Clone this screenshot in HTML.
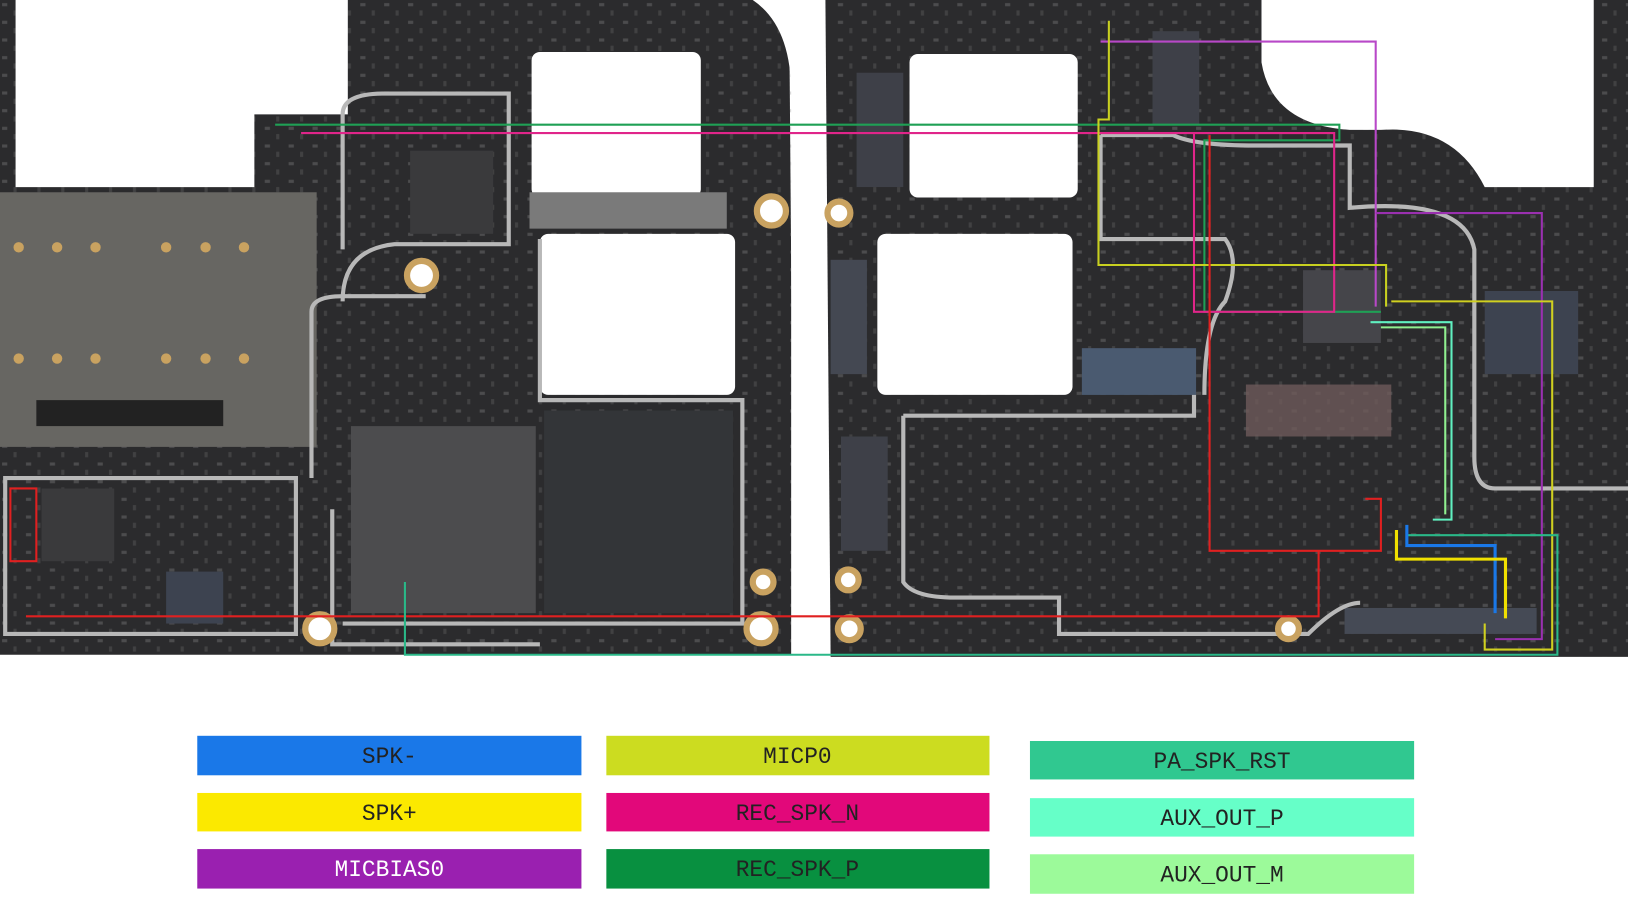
<!DOCTYPE html>
<html><head><meta charset="utf-8"><style>
html,body{margin:0;padding:0;background:#fff;}
svg{display:block;}
text{font-family:"Liberation Mono","DejaVu Sans Mono",monospace;font-size:22px;}
</style></head><body>
<svg width="1628" height="900" viewBox="0 0 1568 866" preserveAspectRatio="none" xmlns="http://www.w3.org/2000/svg">
<defs>
<pattern id="cmp" width="23" height="17" patternUnits="userSpaceOnUse">
<rect x="2" y="3" width="5" height="3" fill="#8a8a8a"/>
<rect x="13" y="10" width="3" height="5" fill="#6a6a6a"/>
</pattern>
</defs>
<rect width="1568" height="866" fill="#fff"/>
<!-- left board -->
<path d="M0 0 H760 L765 630 H0 Z" fill="#2b2b2d"/>
<rect x="0" y="0" width="765" height="630" fill="url(#cmp)" opacity=".35"/>
<path d="M15 0 H335 V110 H245 V180 H15 Z" fill="#fff"/>
<rect x="512" y="50" width="163" height="140" rx="8" fill="#fff"/>
<rect x="520" y="225" width="188" height="155" rx="8" fill="#fff"/>
<path d="M725 0 Q762 25 762 90 V630 H795 V0 Z" fill="#fff"/>
<!-- right board -->
<path d="M795 0 H1568 V632 H800 Z" fill="#2b2b2d"/>
<rect x="800" y="0" width="768" height="632" fill="url(#cmp)" opacity=".35"/>
<rect x="876" y="52" width="162" height="138" rx="8" fill="#fff"/>
<rect x="845" y="225" width="188" height="155" rx="8" fill="#fff"/>
<path d="M1215 0 H1535 V180 H1430 Q1400 120 1330 125 H1300 Q1225 120 1215 60 Z" fill="#fff"/>
<!-- sim tray -->
<rect x="0" y="185" width="305" height="245" fill="#676662"/>
<rect x="35" y="385" width="180" height="25" fill="#222"/>
<g fill="#c9a260">
<circle cx="18" cy="238" r="5"/><circle cx="55" cy="238" r="5"/><circle cx="92" cy="238" r="5"/><circle cx="160" cy="238" r="5"/><circle cx="198" cy="238" r="5"/><circle cx="235" cy="238" r="5"/>
<circle cx="18" cy="345" r="5"/><circle cx="55" cy="345" r="5"/><circle cx="92" cy="345" r="5"/><circle cx="160" cy="345" r="5"/><circle cx="198" cy="345" r="5"/><circle cx="235" cy="345" r="5"/>
</g>
<!-- chips -->
<rect x="338" y="410" width="178" height="180" fill="#4c4c4e"/>
<rect x="524" y="395" width="182" height="195" fill="#333538"/>
<rect x="40" y="470" width="70" height="70" fill="#3a3a3c"/>
<rect x="160" y="550" width="55" height="50" fill="#3d4350"/>
<rect x="395" y="145" width="80" height="80" fill="#3a3a3c"/>
<rect x="510" y="185" width="190" height="35" fill="#7a7a7a"/>
<rect x="1255" y="260" width="75" height="70" fill="#45454a"/>
<rect x="1042" y="335" width="110" height="45" fill="#4a5a70"/>
<rect x="800" y="250" width="35" height="110" fill="#444852"/>
<rect x="825" y="70" width="45" height="110" fill="#3e4048"/>
<rect x="810" y="420" width="45" height="110" fill="#3e4048"/>
<rect x="1110" y="30" width="45" height="90" fill="#3e4048"/>
<rect x="1295" y="585" width="185" height="25" fill="#454a55"/>
<rect x="1430" y="280" width="90" height="80" fill="#3d4350"/>
<rect x="1200" y="370" width="140" height="50" fill="#6e5a5a" opacity=".8"/>
<!-- shield outlines -->
<g fill="none" stroke="#b8b8b8" stroke-width="4">
<path d="M330 240 V110 Q330 90 370 90 H490 V235 H380 Q330 240 330 290"/>
<path d="M300 460 V300 Q300 285 330 285 H410 M320 490 V620 H520 M520 230 V385 H715 V600 H330"/>
<path d="M5 460 H285 V610 H5 Z"/>
<path d="M870 400 H1150 V380 M870 400 V560 Q880 575 920 575 H1020 V610 H1260 Q1290 580 1310 580"/>
<path d="M1060 130 H1130 Q1150 140 1210 140 H1300 V200 Q1410 190 1420 240 V440 Q1420 470 1440 470 H1568"/>
<path d="M1060 130 V230 H1180 Q1195 250 1180 290 Q1160 310 1160 380"/>
</g>
<!-- mounting holes -->
<g fill="#fff" stroke="#c9a260" stroke-width="6">
<circle cx="743" cy="203" r="14"/><circle cx="406" cy="265" r="14"/><circle cx="308" cy="605" r="14"/><circle cx="733" cy="605" r="14"/><circle cx="808" cy="205" r="11"/><circle cx="818" cy="605" r="11"/><circle cx="1241" cy="605" r="10"/><circle cx="735" cy="560" r="10"/><circle cx="817" cy="558" r="10"/>
</g>
<!-- traces -->
<g fill="none" stroke-width="2">
<path d="M265 120 H1290 V135 H1160 V300 H1330" stroke="#1fa055"/>
<path d="M290 128 H1285 V300 H1150 V128" stroke="#e0258a"/>
<path d="M1060 40 H1325 V295" stroke="#b848c8"/>
<path d="M1325 205 H1485 V615 H1440" stroke="#9a30b0"/>
<path d="M1068 20 V115 H1058 V255 H1335 V295" stroke="#c8d020"/>
<path d="M1340 290 H1495 V625 H1430 V600" stroke="#d0d020"/>
<path d="M1165 130 V530 H1330 V480 H1315" stroke="#e02020"/>
<path d="M25 593 H1270 V530" stroke="#e02020"/>
<path d="M10 470 H35 V540 H10 Z" stroke="#e02020"/>
<path d="M390 560 V630 H1500 V515 H1355" stroke="#2ab888"/>
<path d="M1320 310 H1398 V500 H1380" stroke="#60f0c0"/>
<path d="M1330 315 H1392 V495" stroke="#90f090"/>
<path d="M1355 505 V525 H1440 V590" stroke="#1a78e8" stroke-width="3"/>
<path d="M1345 510 V538 H1450 V595" stroke="#f0e000" stroke-width="3"/>
</g>
<!-- legend -->
<rect x="190" y="708" width="370" height="38" fill="#1a78e8"/>
<rect x="190" y="763" width="370" height="37" fill="#fbe900"/>
<rect x="190" y="817" width="370" height="38" fill="#9a20b0"/>
<rect x="584" y="708" width="369" height="38" fill="#ccdc20"/>
<rect x="584" y="763" width="369" height="37" fill="#e2087a"/>
<rect x="584" y="817" width="369" height="38" fill="#089040"/>
<rect x="992" y="713" width="370" height="37" fill="#30c890"/>
<rect x="992" y="768" width="370" height="37" fill="#66ffc8"/>
<rect x="992" y="822" width="370" height="38" fill="#9cfa9a"/>
<g text-anchor="middle" fill="#222">
<text x="375" y="734">SPK-</text>
<text x="375" y="789">SPK+</text>
<text x="375" y="843" fill="#fff">MICBIAS0</text>
<text x="768" y="734">MICP0</text>
<text x="768" y="789">REC_SPK_N</text>
<text x="768" y="843">REC_SPK_P</text>
<text x="1177" y="739">PA_SPK_RST</text>
<text x="1177" y="794">AUX_OUT_P</text>
<text x="1177" y="848">AUX_OUT_M</text>
</g>
</svg>
</body></html>
